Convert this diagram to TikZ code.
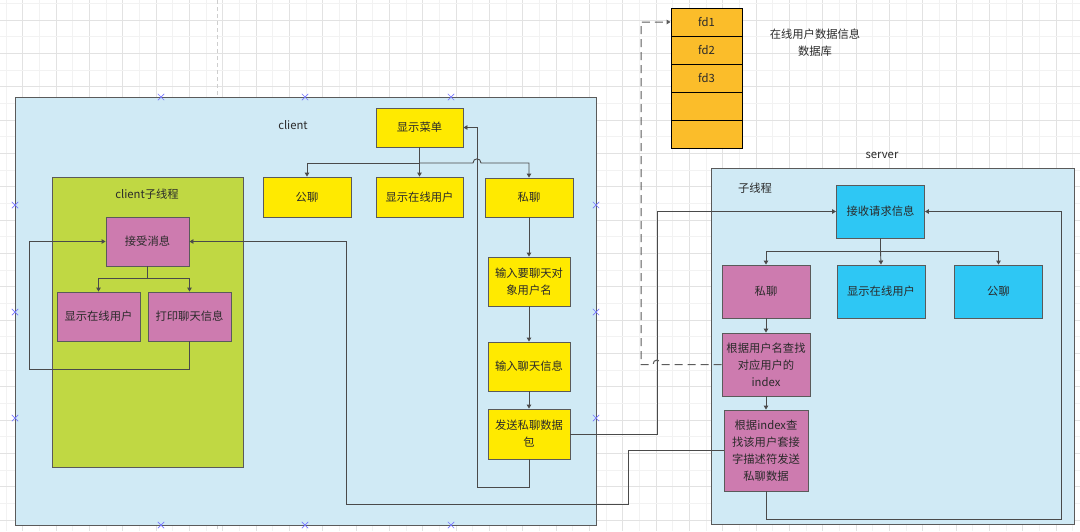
\documentclass[tikz,border=0pt]{standalone}
\usepackage{fontspec}
\setmainfont{Noto Sans CJK SC}
\usetikzlibrary{arrows.meta}
\definecolor{clientbg}{HTML}{D0EAF5}
\definecolor{subbg}{HTML}{C0D843}
\definecolor{ybox}{HTML}{FFEA00}
\definecolor{pbox}{HTML}{CD7BAF}
\definecolor{cbox}{HTML}{2EC7F4}
\definecolor{obox}{HTML}{FBBD2A}
\definecolor{lineg}{HTML}{4A4A4A}
\definecolor{bordg}{HTML}{5A5A5A}
\definecolor{dashg}{HTML}{5C5C5C}
\definecolor{txt}{HTML}{2A2A2A}
\definecolor{gridmin}{HTML}{F2F2F2}
\definecolor{gridmaj}{HTML}{E2E2E2}
\definecolor{xmark}{HTML}{7878FF}
\tikzset{
  bx/.style={draw=bordg, line width=0.9pt, text=txt, align=center, inner sep=0pt,
    font=\fontsize{11.3}{17}\selectfont},
  yb/.style={bx, fill=ybox},
  pb/.style={bx, fill=pbox},
  cb/.style={bx, fill=cbox},
  ob/.style={bx, fill=obox, draw=black, minimum width=71pt, minimum height=28pt},
  arr/.style={draw=lineg, line width=0.9pt, -{Triangle[width=4.5pt,length=4pt]}},
  lbl/.style={text=txt, font=\fontsize{11.3}{17}\selectfont, inner sep=0pt},
  xm/.style={draw=xmark, line width=0.7pt},
}
\begin{document}
\begin{tikzpicture}[x=1pt,y=-1pt]
\useasboundingbox (0,0) rectangle (1080,531);
\fill[white] (0,0) rectangle (1080,531);
% grid
\foreach \i in {0,...,64} {
  \pgfmathsetmacro{\xx}{6+16.667*\i}
  \ifodd\i \draw[gridmaj, line width=0.8pt] (\xx,0) -- (\xx,531);
  \else \draw[gridmin, line width=0.8pt] (\xx,0) -- (\xx,531); \fi
}
\foreach \i in {0,...,31} {
  \pgfmathsetmacro{\yy}{3.3+16.667*\i}
  \ifodd\i \draw[gridmaj, line width=0.8pt] (0,\yy) -- (1080,\yy);
  \else \draw[gridmin, line width=0.8pt] (0,\yy) -- (1080,\yy); \fi
}
\draw[gridmaj!80!gray, line width=1pt, dash pattern=on 4pt off 3pt] (217,0) -- (217,531);

% containers
\node[draw=bordg, line width=1pt, fill=clientbg, minimum width=581pt, minimum height=428pt, inner sep=0pt] (client) at (305.5,311) {};
\node[draw=bordg, line width=1pt, fill=subbg, minimum width=191pt, minimum height=290pt, inner sep=0pt] (sub) at (147.5,322) {};
\node[draw=bordg, line width=1pt, fill=clientbg, minimum width=363pt, minimum height=356pt, inner sep=0pt] (server) at (892.5,346) {};

\node[lbl] (clientlbl) at (293,125) {client};
\node[lbl] (sublbl) at (147,194) {client子线程};
\node[lbl] (serverlbl) at (882,155) {server};
\node[lbl] (threadlbl) at (755,188) {子线程};
\node[lbl, align=center] (dblbl) at (815,42.5) {在线用户数据信息\\数据库};

% client nodes
\node[yb, minimum width=87pt, minimum height=39pt] (menu) at (419.5,127.5) {显示菜单};
\node[yb, minimum width=88pt, minimum height=40pt] (gl) at (307,197) {公聊};
\node[yb, minimum width=87pt, minimum height=40pt] (show1) at (419.5,197) {显示在线用户};
\node[yb, minimum width=88pt, minimum height=39pt] (sl) at (529,197.5) {私聊};
\node[yb, minimum width=82pt, minimum height=49pt] (in1) at (529,281.5) {输入要聊天对\\象用户名};
\node[yb, minimum width=82pt, minimum height=49pt] (in2) at (529,366.5) {输入聊天信息};
\node[yb, minimum width=82pt, minimum height=50pt] (send) at (529,434) {发送私聊数据\\包};

\node[pb, minimum width=83pt, minimum height=49pt] (recv) at (147.5,241.5) {接受消息};
\node[pb, minimum width=83pt, minimum height=49pt] (show2) at (98.5,316.5) {显示在线用户};
\node[pb, minimum width=83pt, minimum height=49pt] (print) at (189.5,316.5) {打印聊天信息};

% server nodes
\node[cb, minimum width=88pt, minimum height=53pt] (req) at (880.5,211.5) {接收请求信息};
\node[pb, minimum width=88pt, minimum height=53pt] (psl) at (766,291.5) {私聊};
\node[cb, minimum width=88pt, minimum height=53pt] (show3) at (881,291.5) {显示在线用户};
\node[cb, minimum width=88pt, minimum height=53pt] (pub) at (998.5,291.5) {公聊};
\node[pb, minimum width=88pt, minimum height=63pt] (find) at (766,364.5) {根据用户名查找\\对应用户的\\index};
\node[pb, minimum width=84pt, minimum height=81pt] (sendsrv) at (766,450.5) {根据index查\\找该用户套接\\字描述符发送\\私聊数据};

% fd table
\node[ob] (fd1) at (706.5,22) {fd1};
\node[ob] (fd2) at (706.5,50) {fd2};
\node[ob] (fd3) at (706.5,78) {fd3};
\node[ob] (fd4) at (706.5,106) {};
\node[ob] (fd5) at (706.5,134) {};

% client connectors
\coordinate (cj) at (419.5,163);
\draw[arr] (menu.south) -- (cj) -| (gl.north);
\draw[arr] (cj) -- (show1.north);
\draw[arr] (cj) -- (473,163) .. controls (473,157.5) and (481,157.5) .. (481,163) -| (sl.north);
\draw[arr] (sl.south) -- (in1.north);
\draw[arr] (in1.south) -- (in2.north);
\draw[arr] (in2.south) -- (send.north);
\coordinate (cl) at (477,487);
\draw[arr] (send.south) |- (cl) |- (menu.east);

\coordinate (rj) at (147.5,278);
\draw[arr] (recv.south) -- (rj) -| (show2.north);
\draw[arr] (rj) -| (print.north);
\coordinate (sl2) at (29.5,369);
\draw[arr] (print.south) |- (sl2) |- (recv.west);

% cross connectors
\coordinate (c1) at (657,434);
\draw[arr] (send.east) -- (c1) |- (req.west);
\coordinate (c2) at (628,504);
\coordinate (c3) at (346,504);
\draw[arr] (sendsrv.west) -| (c2) -- (c3) |- (recv.east);

% server connectors
\coordinate (sj) at (880.5,251);
\draw[arr] (req.south) -- (sj) -| (psl.north);
\draw[arr] (sj) -- (show3.north);
\draw[arr] (sj) -| (pub.north);
\draw[arr] (psl.south) -- (find.north);
\draw[arr] (find.south) -- (sendsrv.north);
\coordinate (s1) at (1061,519);
\draw[arr] (sendsrv.south) |- (s1) |- (req.east);

% dashed to db
\coordinate (d1) at (641,364.5);
\draw[draw=dashg, line width=1pt, dash pattern=on 8pt off 5pt, -{Triangle[width=4.5pt,length=4pt]}]
  (find.west) -- (661,364.5) .. controls (661,358.5) and (653,358.5) .. (653,364.5) -- (d1) |- (fd1.west);

% selection markers
\foreach \p in {(161,97),(305,97),(451,97),(161,525),(305,525),(451,525),(15,205),(15,312),(15,418),(596,205),(596,312),(596,418)} {
  \draw[xm] \p ++(-3.2,-3.2) -- ++(6.4,6.4);
  \draw[xm] \p ++(-3.2,3.2) -- ++(6.4,-6.4);
}
\end{tikzpicture}
\end{document}
